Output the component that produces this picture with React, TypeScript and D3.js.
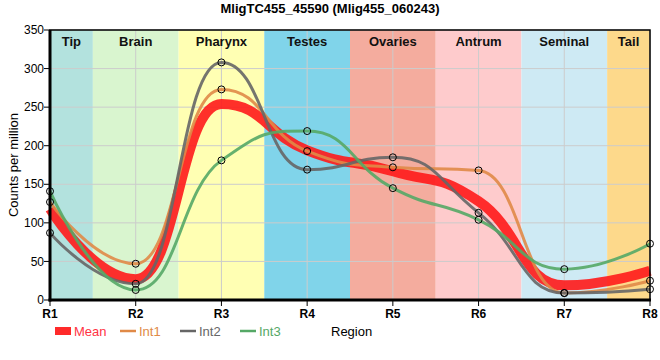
import { useEffect, useRef } from 'react';
import * as d3 from 'd3';

const regions = ['R1', 'R2', 'R3', 'R4', 'R5', 'R6', 'R7', 'R8'];
const tissues = ['Tip', 'Brain', 'Pharynx', 'Testes', 'Ovaries', 'Antrum', 'Seminal', 'Tail'];
const tissueColors = ['#b3e2de', '#d9f5cf', '#ffffb3', '#80d4ea', '#f4ac9e', '#fecbcc', '#ceeaf4', '#fdd98b'];

const int1 = [127, 47, 273, 193, 172, 168, 9, 25];
const int2 = [87, 21, 308, 169, 185, 113, 9, 14];
const int3 = [141, 13, 181, 219, 145, 104, 40, 73];
const mean = [118, 27, 254, 194, 167, 128, 19, 38];

const yTicks = [0, 50, 100, 150, 200, 250, 300, 350];

const series = [
  { name: 'Int1', values: int1, color: '#e08a47', width: 3 },
  { name: 'Int2', values: int2, color: '#666666', width: 3 },
  { name: 'Int3', values: int3, color: '#55a866', width: 3 },
];

const title = 'MligTC455_45590 (Mlig455_060243)';

// spline with control points pulled toward each point and clamped so it never
// overshoots its neighbours
class SmoothSpline {
  _context: any;
  _pts: number[][] = [];
  constructor(context) {
    this._context = context;
  }
  areaStart() {}
  areaEnd() {}
  lineStart() {
    this._pts = [];
  }
  point(x, y) {
    this._pts.push([+x, +y]);
  }
  lineEnd() {
    const p = this._pts;
    const n = p.length;
    if (!n) return;
    const s = 1.05;
    const den = s + 1;
    const left = p.map((d) => [d[0], d[1]]);
    const right = p.map((d) => [d[0], d[1]]);
    for (let i = 1; i < n - 1; i++) {
      const [lx, ly] = p[i - 1];
      const [cx, cy] = p[i];
      const [nx, ny] = p[i + 1];
      const lcx = (s * cx + lx) / den;
      let lcy = (s * cy + ly) / den;
      const rcx = (s * cx + nx) / den;
      let rcy = (s * cy + ny) / den;
      let corr = 0;
      if (rcx !== lcx) corr = ((rcy - lcy) * (rcx - cx)) / (rcx - lcx) + cy - rcy;
      lcy += corr;
      rcy += corr;
      if (lcy > ly && lcy > cy) {
        lcy = Math.max(ly, cy);
        rcy = 2 * cy - lcy;
      } else if (lcy < ly && lcy < cy) {
        lcy = Math.min(ly, cy);
        rcy = 2 * cy - lcy;
      }
      if (rcy > ny && rcy > cy) {
        rcy = Math.max(ny, cy);
        lcy = 2 * cy - rcy;
      } else if (rcy < ny && rcy < cy) {
        rcy = Math.min(ny, cy);
        lcy = 2 * cy - rcy;
      }
      left[i] = [lcx, lcy];
      right[i] = [rcx, rcy];
    }
    this._context.moveTo(p[0][0], p[0][1]);
    for (let i = 1; i < n; i++) {
      this._context.bezierCurveTo(right[i - 1][0], right[i - 1][1], left[i][0], left[i][1], p[i][0], p[i][1]);
    }
  }
}
const curveSmoothSpline = (context) => new SmoothSpline(context);

const Chart = () => {
  const svgRef = useRef(null);

  useEffect(() => {
    const svg = d3.select(svgRef.current);
    svg.selectAll('*').remove();

    const W = 660;
    const H = 360;
    const margin = { top: 30, right: 10, bottom: 60, left: 50 };
    const width = W - margin.left - margin.right;
    const height = H - margin.top - margin.bottom;
    const font = '"Liberation Sans", Arial, sans-serif';

    svg.attr('width', W).attr('height', H).style('font-family', font);

    const g = svg.append('g').attr('transform', `translate(${margin.left},${margin.top})`);

    const x = d3.scalePoint().domain(regions).range([0, width]);
    const y = d3.scaleLinear().domain([0, 350]).range([height, 0]);
    const step = x.step();

    // tissue bands
    tissues.forEach((t, i) => {
      const cx = x(regions[i]);
      const x0 = Math.max(0, cx - step / 2);
      const x1 = Math.min(width, cx + step / 2);
      g.append('rect')
        .attr('x', x0)
        .attr('y', 0)
        .attr('width', x1 - x0)
        .attr('height', height)
        .attr('fill', tissueColors[i]);
    });

    // grid
    g.selectAll('.hgrid')
      .data(yTicks)
      .enter()
      .append('line')
      .attr('x1', 0)
      .attr('x2', width)
      .attr('y1', (d) => y(d))
      .attr('y2', (d) => y(d))
      .attr('stroke', '#cccccc')
      .attr('stroke-width', 1);
    g.selectAll('.vgrid')
      .data(regions)
      .enter()
      .append('line')
      .attr('x1', (d) => x(d))
      .attr('x2', (d) => x(d))
      .attr('y1', 0)
      .attr('y2', height)
      .attr('stroke', '#cccccc')
      .attr('stroke-width', 1);

    // band labels
    tissues.forEach((t, i) => {
      const cx = x(regions[i]);
      const x0 = Math.max(0, cx - step / 2);
      const x1 = Math.min(width, cx + step / 2);
      g.append('text')
        .attr('x', (x0 + x1) / 2)
        .attr('y', 16)
        .attr('text-anchor', 'middle')
        .style('font-size', '13px')
        .style('font-weight', 'bold')
        .attr('fill', '#111')
        .text(t);
    });

    const line = d3
      .line()
      .x((d, i) => x(regions[i]))
      .y((d) => y(d))
      .curve(curveSmoothSpline);

    // mean
    g.append('path')
      .attr('d', line(mean))
      .attr('fill', 'none')
      .attr('stroke', '#ff1a1a')
      .attr('stroke-opacity', 0.9)
      .attr('stroke-width', 10);

    series.forEach((s) => {
      g.append('path')
        .attr('d', line(s.values))
        .attr('fill', 'none')
        .attr('stroke', s.color)
        .attr('stroke-opacity', 0.9)
        .attr('stroke-width', s.width);
    });

    series.forEach((s) => {
      g.selectAll(null)
        .data(s.values)
        .enter()
        .append('circle')
        .attr('cx', (d, i) => x(regions[i]))
        .attr('cy', (d) => y(d))
        .attr('r', 3.5)
        .attr('fill', 'none')
        .attr('stroke', '#000')
        .attr('stroke-width', 1);
    });

    // frame
    g.append('rect')
      .attr('x', 0)
      .attr('y', 0)
      .attr('width', width)
      .attr('height', height)
      .attr('fill', 'none')
      .attr('stroke', '#000')
      .attr('stroke-width', 1.5);
    g.append('line')
      .attr('x1', 0).attr('x2', 0)
      .attr('y1', 0).attr('y2', height + 1.5)
      .attr('stroke', '#000').attr('stroke-width', 3);
    g.append('line')
      .attr('x1', -1.5).attr('x2', width + 1)
      .attr('y1', height).attr('y2', height)
      .attr('stroke', '#000').attr('stroke-width', 3);

    // y axis ticks
    yTicks.forEach((v) => {
      g.append('line')
        .attr('x1', -6).attr('x2', 0)
        .attr('y1', y(v)).attr('y2', y(v))
        .attr('stroke', '#000');
      g.append('text')
        .attr('x', -6)
        .attr('y', y(v))
        .attr('dy', '0.35em')
        .attr('text-anchor', 'end')
        .style('font-size', '12px')
        .attr('fill', '#000')
        .text(v);
    });

    // x axis ticks
    regions.forEach((r) => {
      g.append('line')
        .attr('x1', x(r)).attr('x2', x(r))
        .attr('y1', height).attr('y2', height + 6)
        .attr('stroke', '#000');
      g.append('text')
        .attr('x', x(r))
        .attr('y', height + 18)
        .attr('text-anchor', 'middle')
        .style('font-size', '12px')
        .style('font-weight', 'bold')
        .attr('fill', '#000')
        .text(r);
    });

    // y label
    svg
      .append('text')
      .attr('transform', 'rotate(-90)')
      .attr('x', -(margin.top + height / 2))
      .attr('y', 18)
      .attr('text-anchor', 'middle')
      .style('font-size', '13px')
      .text('Counts per million');

    // title
    svg
      .append('text')
      .attr('x', W / 2)
      .attr('y', 13)
      .attr('text-anchor', 'middle')
      .style('font-size', '13px')
      .style('font-weight', 'bold')
      .text(title);

    // legend
    const ly = 331;
    const lg = svg.append('g');
    lg.append('rect')
      .attr('x', 55).attr('y', ly - 4).attr('width', 16).attr('height', 8)
      .attr('fill', '#ff2a2a');
    lg.append('text')
      .attr('x', 74).attr('y', ly).attr('dy', '0.35em')
      .style('font-size', '13px').attr('fill', '#ff3344').text('Mean');
    const legendX = [120, 180, 240];
    series.forEach((s, i) => {
      lg.append('line')
        .attr('x1', legendX[i]).attr('x2', legendX[i] + 16)
        .attr('y1', ly).attr('y2', ly)
        .attr('stroke', s.color).attr('stroke-width', 2.5);
      lg.append('text')
        .attr('x', legendX[i] + 19).attr('y', ly).attr('dy', '0.35em')
        .style('font-size', '13px').attr('fill', s.color).text(s.name);
    });
    lg.append('text')
      .attr('x', 331).attr('y', ly).attr('dy', '0.35em')
      .style('font-size', '13px').attr('fill', '#000').text('Region');
  }, []);

  return <svg ref={svgRef} style={{ position: 'absolute', left: 0, top: 0 }}></svg>;
};

export default function App() {
  return <Chart />;
}
